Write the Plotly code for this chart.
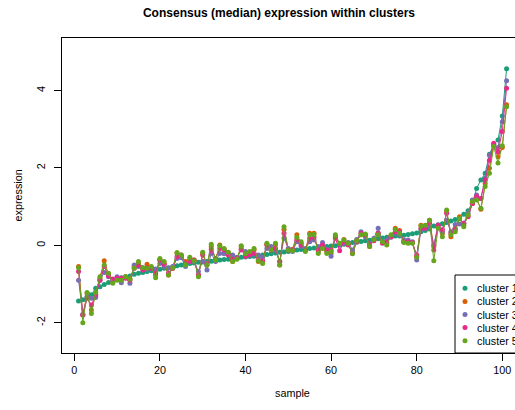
import plotly.graph_objects as go

samples = list(range(1, 102))

cluster1 = [-1.44, -1.41, -1.33, -1.28, -1.11, -1.07, -1.01, -0.96, -0.91, -0.88,
            -0.84, -0.81, -0.79, -0.75, -0.72, -0.70, -0.68, -0.66, -0.65, -0.62,
            -0.59, -0.58, -0.56, -0.53, -0.51, -0.49, -0.47, -0.46, -0.44, -0.43,
            -0.42, -0.41, -0.40, -0.38, -0.37, -0.36, -0.35, -0.33, -0.31, -0.30,
            -0.29, -0.28, -0.27, -0.25, -0.24, -0.22, -0.20, -0.18, -0.17, -0.16,
            -0.13, -0.12, -0.11, -0.10, -0.08, -0.07, -0.06, -0.04, -0.03, -0.02,
            -0.01, 0.01, 0.03, 0.05, 0.07, 0.08, 0.10, 0.12, 0.13, 0.15,
            0.17, 0.19, 0.21, 0.22, 0.24, 0.24, 0.26, 0.28, 0.30, 0.32,
            0.35, 0.38, 0.42, 0.50, 0.53, 0.56, 0.59, 0.63, 0.67, 0.70,
            0.80, 0.89, 1.08, 1.47, 1.69, 1.86, 2.35, 2.61, 2.72, 3.34,
            4.56]

cluster2 = [-0.55, -1.80, -1.24, -1.67, -1.27, -0.85, -0.40, -0.77, -0.94, -0.87,
            -0.85, -0.81, -0.87, -0.55, -0.47, -0.59, -0.49, -0.58, -0.77, -0.38,
            -0.47, -0.77, -0.59, -0.19, -0.29, -0.42, -0.34, -0.38, -0.77, -0.21,
            -0.51, -0.03, -0.36, 0.01, -0.10, -0.19, -0.42, -0.35, -0.03, -0.21,
            -0.21, -0.12, -0.42, -0.42, 0.03, -0.08, 0.01, -0.51, 0.41, -0.10,
            -0.10, 0.27, 0.05, -0.12, 0.31, 0.31, -0.16, -0.03, -0.16, -0.21,
            0.22, 0.01, 0.15, 0.03, -0.19, 0.14, 0.27, 0.27, -0.03, 0.15,
            0.31, 0.07, 0.05, 0.24, 0.44, 0.38, 0.09, 0.09, 0.07, -0.29,
            0.52, 0.48, 0.65, -0.03, 0.48, 0.31, 0.87, 0.22, 0.44, 0.74,
            0.52, 0.76, 1.08, 1.21, 0.93, 1.60, 1.99, 2.59, 2.29, 2.53,
            3.63]

cluster3 = [-0.90, -1.78, -1.33, -1.37, -1.35, -0.90, -0.70, -0.81, -0.90, -0.81,
            -0.97, -0.84, -0.98, -0.51, -0.55, -0.58, -0.61, -0.61, -0.61, -0.47,
            -0.55, -0.59, -0.55, -0.34, -0.32, -0.55, -0.42, -0.42, -0.68, -0.42,
            -0.64, -0.21, -0.42, -0.21, -0.22, -0.21, -0.25, -0.31, -0.12, -0.16,
            -0.21, -0.23, -0.25, -0.31, -0.08, -0.03, -0.12, -0.42, 0.18, -0.08,
            -0.16, 0.09, -0.03, -0.08, 0.09, 0.14, -0.03, 0.07, -0.10, -0.28,
            0.22, 0.01, 0.05, 0.07, -0.12, 0.15, 0.35, 0.22, 0.05, 0.18,
            0.44, 0.09, 0.14, 0.21, 0.31, 0.27, 0.14, 0.14, 0.09, -0.38,
            0.40, 0.44, 0.48, 0.01, 0.52, 0.35, 0.65, 0.35, 0.54, 0.55,
            0.57, 0.83, 1.17, 1.30, 1.21, 1.73, 2.33, 2.57, 2.53, 3.19,
            4.25]

cluster4 = [-0.68, -1.80, -1.37, -1.54, -1.28, -0.90, -0.55, -0.79, -0.87, -0.85,
            -0.85, -0.85, -0.90, -0.59, -0.51, -0.64, -0.58, -0.59, -0.72, -0.38,
            -0.49, -0.72, -0.59, -0.29, -0.25, -0.47, -0.41, -0.38, -0.77, -0.25,
            -0.47, -0.10, -0.34, -0.08, -0.12, -0.25, -0.36, -0.34, -0.10, -0.29,
            -0.25, -0.21, -0.38, -0.40, 0.01, -0.12, -0.08, -0.42, 0.31, -0.12,
            -0.12, 0.15, 0.01, -0.12, 0.18, 0.21, -0.12, 0.01, -0.12, -0.12,
            0.18, -0.14, 0.09, 0.01, -0.21, 0.09, 0.31, 0.27, 0.01, 0.12,
            0.31, 0.05, 0.09, 0.22, 0.35, 0.35, 0.09, 0.09, 0.07, -0.25,
            0.44, 0.44, 0.57, -0.12, 0.52, 0.40, 0.83, 0.31, 0.40, 0.70,
            0.57, 0.74, 1.08, 1.26, 1.21, 1.69, 2.20, 2.64, 2.42, 2.94,
            4.06]

cluster5 = [-0.58, -2.00, -1.22, -1.76, -1.22, -0.81, -0.51, -0.72, -0.98, -0.90,
            -0.90, -0.81, -0.88, -0.59, -0.42, -0.58, -0.59, -0.55, -0.84, -0.34,
            -0.42, -0.77, -0.58, -0.19, -0.25, -0.51, -0.31, -0.40, -0.81, -0.18,
            -0.51, 0.03, -0.38, -0.01, -0.08, -0.18, -0.42, -0.36, -0.01, -0.22,
            -0.16, -0.08, -0.40, -0.47, 0.05, -0.12, 0.05, -0.51, 0.48, -0.12,
            -0.14, 0.21, 0.09, -0.16, 0.27, 0.28, -0.21, -0.08, -0.21, -0.16,
            0.27, 0.05, 0.14, 0.05, -0.22, 0.12, 0.27, 0.29, -0.03, 0.15,
            0.27, 0.09, 0.01, 0.27, 0.41, 0.31, 0.07, 0.05, 0.05, -0.31,
            0.50, 0.52, 0.65, -0.40, 0.44, 0.22, 0.91, 0.27, 0.35, 0.70,
            0.48, 0.78, 1.13, 1.17, 0.96, 1.52, 1.86, 2.55, 2.13, 2.57,
            3.58]

series = [cluster1, cluster2, cluster3, cluster4, cluster5]
names = ["cluster 1", "cluster 2", "cluster 3", "cluster 4", "cluster 5"]
colors = ["#1B9E77", "#D95F02", "#7570B3", "#E7298A", "#66A61E"]

FONT = "Liberation Sans, Arial, Helvetica, sans-serif"
W, H = 515, 410
ML, MT, MB, MR = 62, 38, 57, 0
PW, PH = W - ML - MR, H - MT - MB


def px_x(p):
    return (p - ML) / PW


def px_y(p):
    return (H - MB - p) / PH


fig = go.Figure()
for vals, name, col in zip(series, names, colors):
    fig.add_trace(go.Scatter(
        x=samples, y=vals, mode="lines+markers", name=name,
        line=dict(color=col, width=1),
        marker=dict(color=col, size=5),
        showlegend=False, hoverinfo="skip"))

shapes = []
annotations = []

# legend box (bottom right, clipped on right like the reference)
shapes.append(dict(type="rect", xref="paper", yref="paper",
                   x0=px_x(455), x1=px_x(540), y0=px_y(353), y1=px_y(275),
                   line=dict(color="black", width=1), fillcolor="white",
                   layer="above"))
row_y = [288.3, 301.4, 314.5, 327.6, 340.7]
for ry, name, col in zip(row_y, names, colors):
    shapes.append(dict(type="circle", xref="paper", yref="paper",
                       xsizemode="pixel", ysizemode="pixel",
                       xanchor=px_x(465), yanchor=px_y(ry),
                       x0=-2.5, x1=2.5, y0=-2.5, y1=2.5,
                       fillcolor=col, line=dict(width=0), layer="above"))
    annotations.append(dict(text=name, xref="paper", yref="paper",
                            x=px_x(474.5), y=px_y(ry), xanchor="left",
                            yanchor="middle", showarrow=False,
                            font=dict(family=FONT, size=10.8, color="black")))

annotations.append(dict(text="sample", xref="paper", yref="paper",
                        x=px_x(292), y=px_y(393), xanchor="center",
                        yanchor="middle", showarrow=False,
                        font=dict(family=FONT, size=10.8, color="black")))
annotations.append(dict(text="expression", xref="paper", yref="paper",
                        x=px_x(17.5), y=px_y(196), xanchor="center",
                        yanchor="middle", showarrow=False, textangle=-90,
                        font=dict(family=FONT, size=10.8, color="black")))

fig.update_layout(
    width=W, height=H,
    margin=dict(l=ML, r=MR, t=MT, b=MB, pad=0, autoexpand=False),
    paper_bgcolor="white", plot_bgcolor="white",
    showlegend=False,
    title=dict(text="<b>Consensus (median) expression within clusters</b>",
               x=279 / W, xref="container", xanchor="center",
               y=1 - 12.5 / H, yref="container", yanchor="middle",
               font=dict(family=FONT, size=12, color="black")),
    shapes=shapes, annotations=annotations,
    font=dict(family=FONT, size=10.8, color="black"),
)

fig.update_xaxes(range=[-2.87, 102.97], tickmode="array",
                 tickvals=[0, 20, 40, 60, 80, 100],
                 ticktext=["0", "20", "40", "60", "80", "100"],
                 showgrid=False, zeroline=False,
                 showline=True, linecolor="black", linewidth=1, mirror=True,
                 ticks="outside", ticklen=7, tickcolor="black", tickwidth=1,
                 tickfont=dict(family=FONT, size=10.8, color="black"))
fig.update_yaxes(range=[-2.783, 5.357], tickmode="array",
                 tickvals=[-2, 0, 2, 4], ticktext=["-2", "0", "2", "4"],
                 showgrid=False, zeroline=False,
                 showline=True, linecolor="black", linewidth=1,
                 ticks="outside", ticklen=7, tickcolor="black", tickwidth=1,
                 tickangle=-90, ticklabelstandoff=5,
                 tickfont=dict(family=FONT, size=10.8, color="black"))

fig.write_html("out.html", config={"displayModeBar": False},
               post_script="document.body.style.margin='0';")
